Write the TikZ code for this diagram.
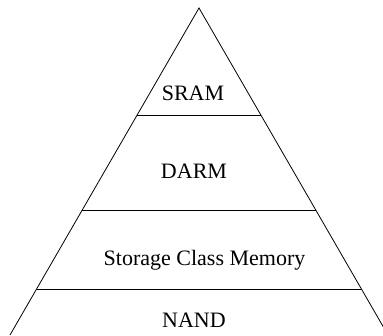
\documentclass[tikz,border=0pt]{standalone}
\usepackage{fontspec}
\setmainfont{Liberation Serif}
\begin{document}
\begin{tikzpicture}[x=1pt,y=1pt,
  edge/.style={draw=black,line width=0.8pt},
  label/.style={anchor=base,inner sep=0pt,font=\fontsize{22}{26}\selectfont}]
\useasboundingbox (0,0) rectangle (383,335);
\clip (0,0) rectangle (383,335);
\coordinate (apex) at (199,327);
\coordinate (bl) at (10,0);
\coordinate (br) at (388,0);
\coordinate (l1) at (137.2,220);  \coordinate (r1) at (260.8,220);
\coordinate (l2) at (82,124.5);   \coordinate (r2) at (316,124.5);
\coordinate (l3) at (36.6,46);    \coordinate (r3) at (361.4,46);
\draw[edge] (bl) -- (apex) -- (br);
\draw[edge] (l1) -- (r1);
\draw[edge] (l2) -- (r2);
\draw[edge] (l3) -- (r3);
\node[label] (sram) at (193,234.3) {SRAM};
\node[label] (darm) at (194,156) {DARM};
\node[label] (scm) at (204.5,70) {Storage Class Memory};
\node[label] (nand) at (194,8) {NAND};
\end{tikzpicture}
\end{document}
